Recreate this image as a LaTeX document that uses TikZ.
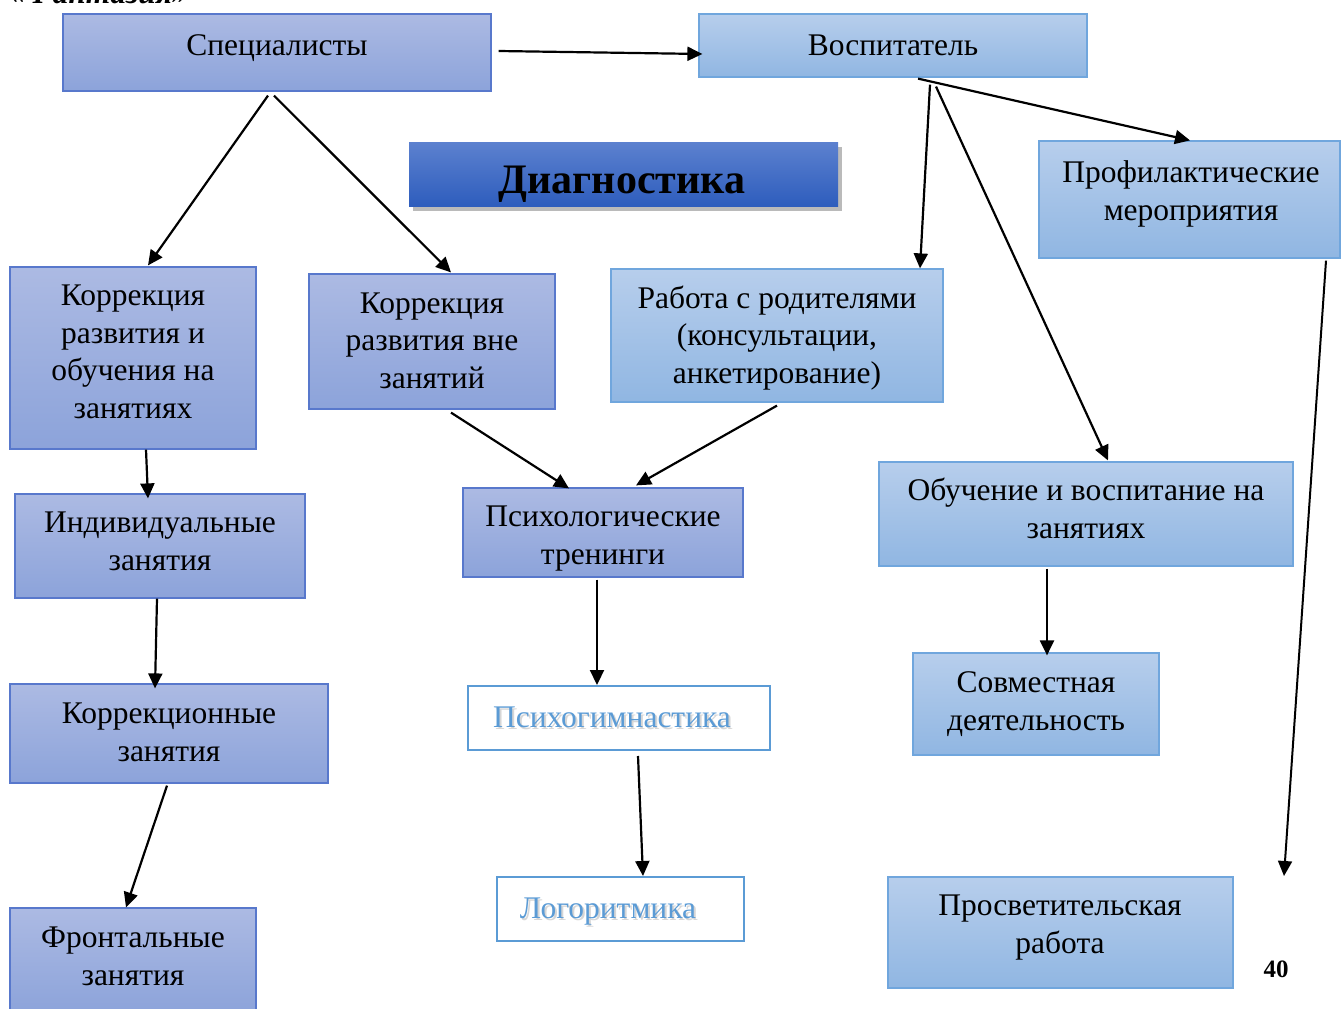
\documentclass[tikz,border=0pt]{standalone}
\usepackage{fontspec}
\setmainfont{Liberation Serif}
\usetikzlibrary{arrows.meta,calc,shadows}
\definecolor{pTop}{HTML}{ACBAE3}
\definecolor{pBot}{HTML}{8CA3DA}
\definecolor{pBorder}{HTML}{5878CC}
\definecolor{lTop}{HTML}{B7CEEC}
\definecolor{lBot}{HTML}{90B6E2}
\definecolor{lBorder}{HTML}{70A6DD}
\definecolor{dTop}{HTML}{5C81CF}
\definecolor{dBot}{HTML}{2E5DBD}
\definecolor{wBorder}{HTML}{5B9BD5}
\definecolor{wText}{HTML}{5B9BD5}
\tikzset{
  box/.style={rectangle, inner sep=0pt, line width=1.2pt},
  pbox/.style={box, draw=pBorder, top color=pTop, bottom color=pBot},
  lbox/.style={box, draw=lBorder, top color=lTop, bottom color=lBot},
  wbox/.style={box, draw=wBorder, fill=white, line width=2pt},
  dbox/.style={box, top color=dTop, bottom color=dBot,
    drop shadow={shadow xshift=4pt, shadow yshift=-5pt, fill=black!45, opacity=0.6}},
  txt/.style={inner sep=0pt, align=center, anchor=base,
    font=\fontsize{31.5}{37.5}\selectfont},
  wtxt/.style={txt, text=wText},
  wshadow/.style={txt, text=black!35, opacity=0.45},
  conn/.style={line width=2.2pt, -{Triangle[length=15pt,width=14pt]}},
}
\begin{document}
\begin{tikzpicture}[x=1pt,y=-1pt]
\useasboundingbox (0,0) rectangle (1341,1009);
\clip (0,0) rectangle (1341,1009);
\fill[white] (0,0) rectangle (1341,1009);

% partly visible title at the top edge
\node[txt, anchor=base west, font=\fontsize{31.5}{37.5}\selectfont\bfseries\itshape] (fant) at (10,3) {«Фантазия»};

% boxes
\node[pbox, minimum width=428pt, minimum height=77pt] (spec) at (277,52.5) {};
\node[lbox, minimum width=388pt, minimum height=63pt] (vosp) at (893,45.5) {};
\node[dbox, minimum width=429pt, minimum height=64pt] (diag) at (623.5,174) {};
\node[lbox, minimum width=301pt, minimum height=117pt] (prof) at (1189.5,199.5) {};
\node[pbox, minimum width=246pt, minimum height=182pt] (k1) at (133,358) {};
\node[pbox, minimum width=246pt, minimum height=135pt] (k2) at (432,341.5) {};
\node[lbox, minimum width=332pt, minimum height=133pt] (rab) at (777,335.5) {};
\node[pbox, minimum width=280pt, minimum height=89pt] (pt) at (603,532.5) {};
\node[pbox, minimum width=290pt, minimum height=104pt] (ind) at (160,546) {};
\node[lbox, minimum width=414pt, minimum height=104pt] (obuch) at (1086,514) {};
\node[pbox, minimum width=318pt, minimum height=99pt] (kz) at (169,733.5) {};
\node[wbox, minimum width=302pt, minimum height=64pt] (pg) at (619,718) {};
\node[lbox, minimum width=246pt, minimum height=102pt] (sov) at (1036,704) {};
\node[wbox, minimum width=247pt, minimum height=64pt] (lg) at (620.5,909) {};
\node[pbox, minimum width=246pt, minimum height=106pt] (fr) at (133,961) {};
\node[lbox, minimum width=345pt, minimum height=111pt] (pr) at (1060.5,932.5) {};

% texts (base = baseline of the last line)
\node[txt] (spect) at (277,55) {Специалисты};
\node[txt] (vospt) at (893,55) {Воспитатель};
\node[txt, font=\fontsize{42}{48}\selectfont\bfseries] (diagt) at (622,193) {Диагностика};
\node[txt] (proft) at (1191,220) {Профилактические\\мероприятия};
\node[txt] (k1t) at (133,418) {Коррекция\\развития и\\обучения на\\занятиях};
\node[txt] (k2t) at (432,388) {Коррекция\\развития вне\\занятий};
\node[txt] (rabt) at (777,383) {Работа с родителями\\(консультации,\\анкетирование)};
\node[txt] (ptt) at (603,564) {Психологические\\тренинги};
\node[txt] (indt) at (160,570) {Индивидуальные\\занятия};
\node[txt] (obucht) at (1086,538) {Обучение и воспитание на\\занятиях};
\node[txt] (kzt) at (169,761) {Коррекционные\\занятия};
\node[wshadow] (pgs) at (614,729) {Психогимнастика};
\node[wtxt] (pgt) at (612,727) {Психогимнастика};
\node[txt] (sovt) at (1036,730) {Совместная\\деятельность};
\node[wshadow] (lgs) at (610,920) {Логоритмика};
\node[wtxt] (lgt) at (608,918) {Логоритмика};
\node[txt] (frt) at (133,985) {Фронтальные\\занятия};
\node[txt] (prt) at (1060,953) {Просветительская\\работа};
\node[txt, font=\fontsize{25}{30}\selectfont\bfseries] (page) at (1276,977) {40};

% free end of the long arrow
\coordinate (prend) at (1284,876);

% connectors
\draw[conn] ($(spec.east)+(7,-1.5)$) -- ($(vosp.west)+(4,8.5)$);
\draw[conn] ($(spec.south)+(-9,4)$) -- ($(k1.north)+(15,-1)$);
\draw[conn] ($(spec.south)+(-3,4)$) -- ($(k2.north)+(19,-1)$);
\draw[conn] ($(vosp.south)+(25,1)$) -- ($(prof.north)+(0.5,0)$);
\draw[conn] ($(vosp.south)+(37,7)$) -- ($(rab.north)+(143,0)$);
\draw[conn] ($(vosp.south)+(43,9)$) -- ($(obuch.north)+(22,-1)$);
\draw[conn] ($(k1.south)+(13,0)$) -- ($(ind.north)+(-12,5)$);
\draw[conn] ($(ind.south)+(-3,0)$) -- ($(kz.north)+(-14,5)$);
\draw[conn] ($(kz.south)+(-2,2)$) -- ($(fr.north)+(-7,0)$);
\draw[conn] ($(k2.south)+(19,3)$) -- ($(pt.north)+(-34,1)$);
\draw[conn] ($(rab.south)+(0,3)$) -- ($(pt.north)+(33,-2)$);
\draw[conn] ($(pt.south)+(-6,2)$) -- ($(pg.north)+(-22,0)$);
\draw[conn] ($(pg.south)+(19,5)$) -- ($(lg.north)+(22.5,0)$);
\draw[conn] ($(obuch.south)+(-39,2)$) -- ($(sov.north)+(11,3)$);
\draw[conn, line width=2pt] ($(prof.south)+(136.5,2)$) -- (prend);
\end{tikzpicture}
\end{document}
